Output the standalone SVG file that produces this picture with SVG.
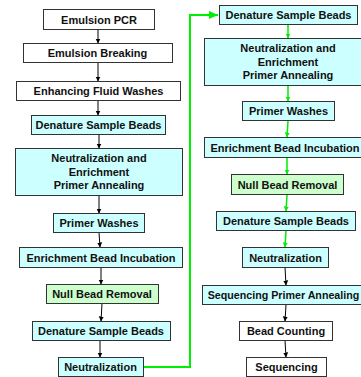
<svg xmlns="http://www.w3.org/2000/svg" width="361" height="377" viewBox="0 0 361 377">
<defs>
<style>
.b{stroke:#333;stroke-width:1}
.w{fill:#ffffff}
.c{fill:#ccffff}
.g{fill:#ccffcc}
text{font-family:"Liberation Sans",Arial,sans-serif;font-size:11px;font-weight:bold;fill:#111;text-anchor:middle}
.k{stroke:#000;stroke-width:1;fill:none}
.gr{stroke:#00ee00;stroke-width:1.5;fill:none}
.lp{stroke:#00ee00;stroke-width:2;fill:none}
</style>
<marker id="ak" markerUnits="userSpaceOnUse" markerWidth="6" markerHeight="6" refX="5" refY="3" orient="auto"><path d="M0,0.5 L5,3 L0,5.5 Z" fill="#000"/></marker>
<marker id="ag" markerUnits="userSpaceOnUse" markerWidth="6" markerHeight="6" refX="5" refY="3" orient="auto"><path d="M0,0.5 L5,3 L0,5.5 Z" fill="#00ee00"/></marker>
<marker id="agl" markerUnits="userSpaceOnUse" markerWidth="10" markerHeight="10" refX="9" refY="5" orient="auto"><path d="M0,1 L9,5 L0,9 Z" fill="#00ee00"/></marker>
</defs>
<g id="connectors">
<path class="k" d="M98,29.5 L98,43.5" marker-end="url(#ak)"/>
<path class="k" d="M98,62.5 L98,81.5" marker-end="url(#ak)"/>
<path class="k" d="M98,100.5 L98,115.5" marker-end="url(#ak)"/>
<path class="k" d="M99,134.5 L99,148.5" marker-end="url(#ak)"/>
<path class="k" d="M99,195.5 L99,213.5" marker-end="url(#ak)"/>
<path class="k" d="M99,232.5 L100,247.5" marker-end="url(#ak)"/>
<path class="k" d="M101,267.5 L101,284.5" marker-end="url(#ak)"/>
<path class="k" d="M102,303.5 L101,321.5" marker-end="url(#ak)"/>
<path class="k" d="M100,340.5 L100,357.5" marker-end="url(#ak)"/>
<path class="lp" d="M143,367 L190,367 L190,15 L218,15" marker-end="url(#agl)"/>
<path class="gr" d="M288,24.5 L288,38.5" marker-end="url(#ag)"/>
<path class="gr" d="M288,86 L288,101.5" marker-end="url(#ag)"/>
<path class="gr" d="M288,121 L287,137.5" marker-end="url(#ag)"/>
<path class="gr" d="M287,157.5 L287,174.5" marker-end="url(#ag)"/>
<path class="gr" d="M287,194.5 L286,211.5" marker-end="url(#ag)"/>
<path class="gr" d="M286,230.5 L285,247.5" marker-end="url(#ag)"/>
<path class="k" d="M285,267 L286,285.5" marker-end="url(#ak)"/>
<path class="k" d="M286,304.5 L285,321.5" marker-end="url(#ak)"/>
<path class="k" d="M285,340.5 L286,357.5" marker-end="url(#ak)"/>
</g>
<g id="n1"><rect class="b w" x="43.5" y="9.5" width="111" height="20"/><text x="99" y="23.5">Emulsion PCR</text></g>
<g id="n2"><rect class="b w" x="23.5" y="43.5" width="149" height="19"/><text x="97.5" y="57">Emulsion Breaking</text></g>
<g id="n3"><rect class="b w" x="16.5" y="81.5" width="164" height="19"/><text x="98.5" y="95">Enhancing Fluid Washes</text></g>
<g id="n4"><rect class="b c" x="31.5" y="115.5" width="134" height="19"/><text x="98.5" y="129">Denature Sample Beads</text></g>
<g id="n5"><rect class="b c" x="15.5" y="148.5" width="167" height="47"/><text x="99" y="162">Neutralization and</text><text x="99" y="175.5">Enrichment</text><text x="99" y="189">Primer Annealing</text></g>
<g id="n6"><rect class="b c" x="53.5" y="213.5" width="91" height="19"/><text x="99" y="227">Primer Washes</text></g>
<g id="n7"><rect class="b c" x="19.5" y="247.5" width="163" height="20"/><text x="101" y="261.5">Enrichment Bead Incubation</text></g>
<g id="n8"><rect class="b g" x="46.5" y="284.5" width="112" height="19"/><text x="102" y="298">Null Bead Removal</text></g>
<g id="n9"><rect class="b c" x="32.5" y="321.5" width="138" height="19"/><text x="101" y="335">Denature Sample Beads</text></g>
<g id="n10"><rect class="b c" x="58.5" y="357.5" width="85" height="19"/><text x="100.5" y="371">Neutralization</text></g>
<g id="r1"><rect class="b c" x="219.5" y="5.5" width="138" height="19"/><text x="288.5" y="19">Denature Sample Beads</text></g>
<g id="r2"><rect class="b c" x="204.5" y="38.5" width="168" height="47"/><text x="288" y="52">Neutralization and</text><text x="288" y="65.5">Enrichment</text><text x="288" y="79">Primer Annealing</text></g>
<g id="r3"><rect class="b c" x="242.5" y="101.5" width="92" height="19"/><text x="288.5" y="115">Primer Washes</text></g>
<g id="r4"><rect class="b c" x="204.5" y="137.5" width="164" height="20"/><text x="285" y="151.5">Enrichment Bead Incubation</text></g>
<g id="r5"><rect class="b g" x="231.5" y="174.5" width="112" height="20"/><text x="287.5" y="188.5">Null Bead Removal</text></g>
<g id="r6"><rect class="b c" x="216.5" y="211.5" width="139" height="19"/><text x="286" y="225">Denature Sample Beads</text></g>
<g id="r7"><rect class="b c" x="242.5" y="247.5" width="86" height="20"/><text x="285.5" y="261.5">Neutralization</text></g>
<g id="r8"><rect class="b c" x="202.5" y="285.5" width="167" height="19"/><text x="283.5" y="299" style="font-size:10.7px">Sequencing Primer Annealing</text></g>
<g id="r9"><rect class="b w" x="239.5" y="321.5" width="93" height="19"/><text x="286" y="335">Bead  Counting</text></g>
<g id="r10"><rect class="b w" x="246.5" y="357.5" width="80" height="19"/><text x="286.5" y="371">Sequencing</text></g>
</svg>
